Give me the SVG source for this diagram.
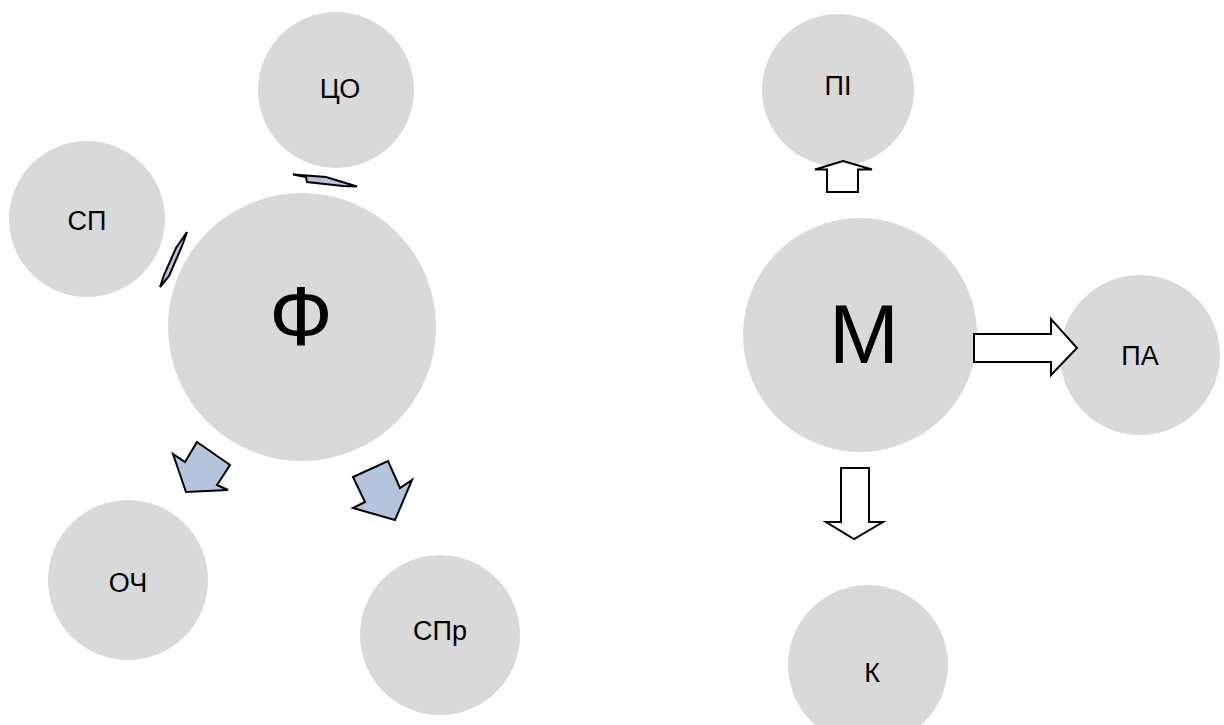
<svg xmlns="http://www.w3.org/2000/svg" width="1224" height="725" viewBox="0 0 1224 725">
<style>
.c{fill:#d9d9d9}
.t{font-family:"Liberation Sans",Arial,sans-serif;font-size:27px;fill:#000;text-anchor:middle}
.b{font-size:84px}
.ab{fill:#b4c4dd;stroke:#000;stroke-width:2;stroke-linejoin:miter}
.aw{fill:#fff;stroke:#000;stroke-width:2;stroke-linejoin:miter}
</style>
<rect width="1224" height="725" fill="#fff"/>
<g id="n-co"><circle class="c" cx="336" cy="90" r="78"/><text class="t" x="340" y="98">ЦО</text></g>
<g id="n-sp"><circle class="c" cx="87" cy="219" r="78"/><text class="t" x="87" y="230">СП</text></g>
<g id="n-f"><circle class="c" cx="302" cy="327" r="134"/><text class="t b" x="301" y="345">Ф</text></g>
<g id="n-och"><circle class="c" cx="128" cy="580" r="80"/><text class="t" x="128" y="592">ОЧ</text></g>
<g id="n-spr"><circle class="c" cx="440" cy="635" r="80"/><text class="t" x="440" y="640">СПр</text></g>
<g id="n-pi"><circle class="c" cx="838" cy="90" r="76"/><text class="t" x="838" y="95">ПІ</text></g>
<g id="n-m"><circle class="c" cx="860" cy="335" r="117"/><text class="t b" x="864" y="363">М</text></g>
<g id="n-pa"><circle class="c" cx="1140" cy="355" r="80"/><text class="t" x="1140" y="365">ПА</text></g>
<g id="n-k"><circle class="c" cx="868" cy="665" r="80"/><text class="t" x="872" y="682">К</text></g>
<g id="connectors">
<polygon class="ab" points="293,174.5 326,177 357,186.5 343,186 307,182 306,177"/>
<polygon class="ab" points="187,232 182,246 169,276 160,287 164,275 176,248"/>
<polygon class="ab" points="197,442 230,465 217,485 228,490 186,492 173,454 185,462"/>
<polygon class="ab" points="353,477 388,461 400,488 412,480 395,520 353,508 365,502"/>
<polygon class="aw" points="843,161 872,169.5 858,169.5 858,192 827,192 827,169.5 815,169.5"/>
<polygon class="aw" points="974,334 1051,334 1051,319 1077,348 1051,375 1051,362 974,362"/>
<polygon class="aw" points="841,468 869,468 869,522 883,522 854,539 826,522 841,522"/>
</g>
</svg>
